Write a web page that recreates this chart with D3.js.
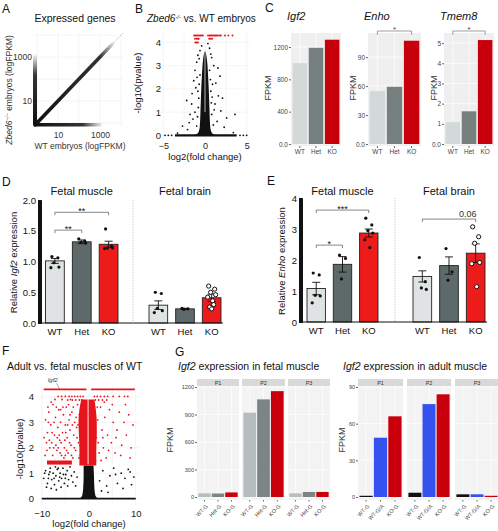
<!DOCTYPE html>
<html><head><meta charset="utf-8">
<script src="https://cdn.jsdelivr.net/npm/d3@7"></script>
<style>body{margin:0;background:#fff}svg{display:block;font-family:"Liberation Sans",Arial,sans-serif}</style>
</head><body><svg id="c" width="498" height="531"></svg>
<script>
// ================= DATA =================
const genotypes = ["WT", "Het", "KO"];

// A: expressed genes (log FPKM density)
const aTickValues = [10, 1000];
const aDomain = [0.8, 12600];
const aRidge = [0.8, 1000, 5000];      // diagonal ridge: start, dense end, fade end
const aBand = [0.8, 150, 1400];        // axis-hugging bands: start, dense end, fade end

// B: volcano Zbed6-/- vs WT
const bXTicks = [-5, 0, 5];
const bYTicks = [0, 1, 2, 3, 4];
const bCore = [[0,1.25],[0.12,0.8],[0.4,0.62],[1.0,0.55],[1.5,0.5],[2.0,0.45],[2.5,0.38],[3.0,0.3],[3.3,0.22],[3.6,0.08]];
const bZero = [-3.6, 3.8];
const bZeroSparse = [-4.8, -4.4, -4.0, 4.2, 4.6, 5.0];
const bBlack = [[-2.7,0.4],[-2.1,0.25],[-1.8,0.9],[-1.6,1.35],[-1.55,1.8],[-1.35,2.35],[-1.2,2.8],[-1.0,3.15],[-0.85,3.45],[-0.6,3.65],[0.55,3.75],[0.8,3.35],[1.05,3.0],[1.3,2.25],[1.55,2.9],[1.6,1.7],[1.9,1.05],[1.45,0.6],[2.3,0.35],[2.6,0.75],[-2.2,1.5],[-1.1,2.05],[1.2,1.35],[-1.45,0.7],[3.4,0.12],[-3.3,0.1],[0.35,3.95],[-0.4,3.85],[1.8,2.55],[-1.9,0.55],[2.1,1.6],[-0.7,3.3],[0.7,3.5],[3.6,0.9],
  [-0.9,0.8],[-0.8,1.2],[-0.75,1.6],[-0.7,2.2],[-0.6,2.6],[0.8,0.9],[0.75,1.4],[0.7,1.9],[0.65,2.4],[0.55,2.8],[-1.0,0.4],[1.0,0.45],[-0.85,1.9],[0.85,1.65],[-1.2,1.0],[1.1,1.1],[-0.95,2.5],[0.9,2.2]];
const bRed = [[-1.3,4.3],[-1.15,4.3],[-1.0,4.3],[-0.85,4.3],[-0.7,4.3],[-0.55,4.3],[-0.4,4.3],[-0.25,4.3],[0.36,4.3],[0.5,4.3],[0.65,4.3],[0.8,4.3],[0.95,4.3],[1.1,4.3],[1.25,4.3],[1.4,4.3],[1.55,4.3],[1.75,4.3],[1.9,4.3],[2.4,4.3],[2.8,4.3],[3.3,4.3],
  [-1.2,4.16],[-1.0,4.16],[-0.85,4.16],[-0.75,4.16],[0.5,4.16],[0.7,4.16],[0.85,4.16],[-1.15,4.0],[-1.0,4.0],[-0.85,4.0]];

// C: FPKM per gene
const cGenes = ["Igf2", "Enho", "Tmem8"];
const cIgf2 = [1000, 1190, 1290];
const cEnho = [54.8, 59.3, 107];
const cTmem8 = [1.08, 1.62, 5.15];
const cIgf2Ticks = [0, 400, 800, 1200];
const cEnhoTicks = [0, 30, 60, 90];
const cTmem8Ticks = [0, 1, 2, 3, 4, 5];

// D: relative Igf2 expression
const dTicks = [0, 0.5, 1.0, 1.5, 2.0];
const dMuscleMean = [1.01, 1.32, 1.28];
const dMuscleSem = [0.04, 0.03, 0.05];
const dBrainMean = [0.29, 0.23, 0.41];
const dBrainSem = [0.07, 0.01, 0.06];
const dMusclePts = [[1.08,1.06,0.98,0.91,0.90],[1.37,1.33,1.31,1.30],[1.53,1.25,1.22,1.22,1.21]];
const dBrainPts = [[0.50,0.48,0.24,0.20,0.17],[0.24,0.23,0.22],[0.60,0.55,0.50,0.46,0.42,0.36,0.30,0.26,0.23]];
const dSig = [{a:"WT", b:"KO", y:1.80, label:"**"}, {a:"WT", b:"Het", y:1.51, label:"**"}];

// E: relative Enho expression
const eTicks = [0, 1, 2, 3, 4];
const eMuscleMean = [1.08, 1.86, 2.87];
const eMuscleSem = [0.20, 0.25, 0.13];
const eBrainMean = [1.47, 1.82, 2.22];
const eBrainSem = [0.18, 0.28, 0.30];
const eMusclePts = [[1.58,1.52,0.86,0.84,0.62],[2.16,2.05,1.39],[3.35,3.13,2.95,2.87,2.65,2.40]];
const eBrainPts = [[2.08,1.30,1.10,1.05],[2.37,1.62,1.35],[3.07,2.75,2.54,1.92,1.88,1.14]];
const eSig = [{a:"WT", b:"KO", y:3.61, label:"***"}, {a:"WT", b:"Het", y:2.48, label:"*"}];
const eBrainSig = [{a:"WT", b:"KO", y:3.32, label:"0.06"}];

// F: volcano adult vs fetal muscle
const fXTicks = [-10, 0, 10];
const fYTicks = [0, 1, 2, 3, 4];
const fZero = [-10, 10];
const fBlackCore = [[0,-1.9,1.9],[0.12,-1.4,1.4],[0.4,-1.2,1.2],[0.9,-1.1,1.1],[1.3,-1.1,1.0]];
const fRedCore = [[1.3,-2.0,1.6],[2.0,-2.0,1.6],[2.5,-2.1,1.7],[3.0,-2.2,1.7],[3.5,-2.0,1.5],[3.9,-1.6,1.2]];
const fRedTop = [[-9.6,-0.5],[0.5,9.8]];
const fRedBand = [-8.9, -3.6, 1.34, 1.5];
const fRedRows = [[-6.5,4.02],[-5.8,4.02],[-5.0,4.02],[-4.2,4.02],[-3.6,4.02],[-3.0,4.02],[-2.4,4.02],[-1.8,4.02],[-1.2,4.02],[1.2,4.02],[1.8,4.02],[2.5,4.02],[3.3,4.02],[4.0,4.02],[5.2,4.02],[6.5,4.02],[7.6,4.02],[8.3,4.02],
  [-4.5,3.88],[-3.5,3.88],[-2.8,3.88],[-2.0,3.88],[-1.5,3.88],[1.4,3.88],[2.1,3.88],[2.9,3.88],[3.8,3.88]];
const fRed = [[-9.2,3.1],[-8.8,2.6],[-8.5,3.4],[-8.1,2.9],[-7.9,2.2],[-7.6,3.7],[-7.3,2.5],[-7.1,3.2],[-6.8,1.9],[-6.6,2.8],[-6.4,3.5],[-6.2,2.3],[-6.0,3.0],[-5.8,1.7],[-5.6,2.6],[-5.4,3.3],[-5.2,2.0],[-5.0,2.9],[-4.8,3.6],[-4.6,2.4],[-4.4,1.8],[-4.2,3.1],[-4.0,2.7],[-3.8,2.1],[-3.6,3.4],[-3.4,1.6],[-3.2,2.5],[-3.0,3.0],[-2.8,1.9],[-2.6,2.8],[-2.4,3.7],[-2.2,2.2],[-2.0,3.3],[-1.8,1.7],[-1.6,2.6],[-1.4,3.0],[-8.9,1.9],[-8.3,2.0],[-7.7,1.7],[-7.0,2.1],[-6.5,2.0],[-5.9,2.2],[-5.3,1.6],[-4.7,1.9],[-4.1,2.2],[-3.7,1.7],[-9.5,2.4],[-8.6,3.0],[-7.4,3.0],[-6.9,3.6],[-6.3,2.5],[-5.5,3.6],[-4.9,2.6],[-4.3,3.7],[-3.3,3.6],[-2.5,2.4],[-2.1,1.6],[-1.7,3.5],[-3.9,3.9],[-5.7,3.9],[-7.2,3.9],[-8.0,3.8],[-1.9,2.1],[-2.7,3.2],[-3.5,2.9],[-6.7,2.4],[-7.8,2.6],[-9.0,2.2],[-5.1,2.3],[-4.5,2.9],[-8.4,2.3],[-7.5,2.0],[-6.1,1.8],[-5.0,1.7],[-3.1,2.0],[-2.3,2.9],[-9.3,1.7],[-6.0,3.5],[-4.0,3.3],[-8.7,3.6],
  [1.6,2.4],[1.9,3.1],[2.2,1.8],[2.5,3.6],[2.8,2.7],[3.1,2.0],[3.4,3.2],[3.7,1.6],[4.0,2.5],[4.4,3.5],[4.8,2.2],[5.2,3.0],[5.6,1.8],[6.0,2.7],[6.5,3.4],[7.0,2.1],[7.5,3.0],[8.0,2.5],[8.5,3.3],[9.0,2.0],[9.4,2.9],[2.0,2.2],[2.6,1.5],[3.3,3.8],[4.2,1.9],[5.0,3.7],[5.8,2.4],[6.8,1.7],[7.8,3.7],[8.8,1.6],[1.8,3.6],[3.0,2.4]];
const fBlack = [[-9.6,0.8],[-9.2,1.1],[-8.8,0.6],[-8.5,0.95],[-8.2,1.2],[-7.9,0.75],[-7.6,1.0],[-7.3,0.55],[-7.0,0.9],[-6.7,1.15],[-6.4,0.7],[-6.1,1.0],[-5.8,0.8],[-5.5,1.2],[-5.2,0.6],[-4.9,0.95],[-4.6,1.1],[-4.3,0.75],[-4.0,1.25],[-3.7,0.9],[-3.4,0.65],[-3.1,1.05],[-2.8,0.5],[-2.5,0.85],[-9.0,0.45],[-8.0,0.4],[-6.9,0.35],[-5.9,0.45],[-8.6,0.8],[-7.4,0.8],[-6.2,0.85],[-5.0,0.8],[-9.4,1.0],[-7.1,1.25],[-4.5,0.5],[-8.3,1.05],[-6.5,1.2],[-5.4,0.95],
  [2.3,0.7],[3.0,1.1],[3.8,0.5],[4.5,0.9],[5.3,1.2],[6.1,0.6],[6.9,1.0],[7.7,0.8],[8.4,1.15],[9.1,0.55],[2.7,0.3],[4.1,0.25],[5.7,0.95],[7.3,0.4],[8.8,1.05],[9.6,0.85]];
const fIgf2 = [-6.2, 4.3];

// G: Igf2 FPKM by pig
const pigs = ["P1", "P2", "P3"];
const gFetalGroups = ["WT-G", "Het-G", "KO-G"];
const gAdultGroups = ["WT-G", "WT-G/A", "KO-G"];
const gFetal = [[40, 38, 50], [920, 1065, 1155], [40, 55, 55]];
const gAdult = [[1, 48.5, 66], [3.5, 76, 84], [2.2, 2.2, 1]];
const gFetalTicks = [0, 300, 600, 900, 1200];
const gAdultTicks = [0, 30, 60, 90];

// ================= DRAWING =================
const FONT = '"Liberation Sans", Arial, sans-serif';
const svg = d3.select("#c");
const defs = svg.append("defs");
const RED = "#e8141c", BLK = "#111";

function text(g, x, y, s, o = {}) {
  const t = g.append("text").attr("x", x).attr("y", y).text(s)
    .attr("font-size", o.size || 10).attr("fill", o.fill || "#111")
    .attr("text-anchor", o.anchor || "start");
  if (o.italic) t.attr("font-style", "italic");
  if (o.rotate) t.attr("transform", `rotate(${o.rotate},${x},${y})`);
  return t;
}
function rich(g, x, y, parts, o = {}) {
  const t = g.append("text").attr("x", x).attr("y", y)
    .attr("font-size", o.size || 10).attr("fill", o.fill || "#111")
    .attr("text-anchor", o.anchor || "start");
  if (o.rotate) t.attr("transform", `rotate(${o.rotate},${x},${y})`);
  parts.forEach(p => {
    const s = t.append("tspan").text(p.t);
    if (p.i) s.attr("font-style", "italic");
    if (p.sup) s.attr("baseline-shift", "super").attr("font-size", (o.size || 10) * 0.6);
  });
  return t;
}
function styleAxis(a, size, color, keepDomain, stroke) {
  a.attr("font-size", size).attr("font-family", FONT).attr("fill", color);
  a.selectAll("text").attr("fill", color);
  a.selectAll("line").attr("stroke", stroke || color);
  if (!keepDomain) a.select(".domain").remove();
  else a.select(".domain").attr("stroke", stroke || color);
  return a;
}

// ---------- Panel letters ----------
[["A",2,13],["B",135,13],["C",265,12],["D",2,186],["E",267,185],["F",2,355],["G",175,356]]
  .forEach(([l,x,y]) => text(svg, x, y, l, {size: 12}));

// ---------- A ----------
(function () {
  const g = svg.append("g");
  const x = d3.scaleLog().domain(aDomain).range([35, 123]);
  const y = d3.scaleLog().domain(aDomain).range([125, 33]);
  const gv = [1, 10, 100, 1000, 10000];
  g.selectAll("line.gx").data(gv).join("line").attr("class","gx")
    .attr("x1", d => x(d)).attr("x2", d => x(d)).attr("y1", 33).attr("y2", 127)
    .attr("stroke", "#eeeeee").attr("stroke-width", 0.6);
  g.selectAll("line.gy").data(gv).join("line").attr("class","gy")
    .attr("y1", d => y(d)).attr("y2", d => y(d)).attr("x1", 33).attr("x2", 123)
    .attr("stroke", "#eeeeee").attr("stroke-width", 0.6);
  g.append("line").attr("x1", x(aDomain[0])).attr("y1", y(aDomain[0]))
    .attr("x2", x(aDomain[1])).attr("y2", y(aDomain[1]))
    .attr("stroke", "#888").attr("stroke-width", 0.6).attr("stroke-dasharray", "1.5,1.5");
  function grad(id, x1, y1, x2, y2, frac) {
    const lg = defs.append("linearGradient").attr("id", id).attr("gradientUnits", "userSpaceOnUse")
      .attr("x1", x1).attr("y1", y1).attr("x2", x2).attr("y2", y2);
    lg.append("stop").attr("offset", 0).attr("stop-color", BLK).attr("stop-opacity", 1);
    lg.append("stop").attr("offset", frac).attr("stop-color", BLK).attr("stop-opacity", 0.85);
    lg.append("stop").attr("offset", 1).attr("stop-color", BLK).attr("stop-opacity", 0);
  }
  const bandFrac = (Math.log(aBand[1]) - Math.log(aBand[0])) / (Math.log(aBand[2]) - Math.log(aBand[0]));
  grad("gv", 0, y(aBand[0]), 0, y(aBand[2]), bandFrac);
  grad("gh", x(aBand[0]), 0, x(aBand[2]), 0, bandFrac);
  g.append("rect").attr("x", x(aBand[0]) - 2).attr("width", 4)
    .attr("y", y(aBand[2])).attr("height", y(aBand[0]) - y(aBand[2])).attr("fill", "url(#gv)");
  g.append("rect").attr("y", y(aBand[0]) - 2).attr("height", 3.5)
    .attr("x", x(aBand[0])).attr("width", x(aBand[2]) - x(aBand[0])).attr("fill", "url(#gh)");
  const rFrac = (Math.log(aRidge[1]) - Math.log(aRidge[0])) / (Math.log(aRidge[2]) - Math.log(aRidge[0]));
  grad("gr", x(aRidge[0]), y(aRidge[0]), x(aRidge[2]), y(aRidge[2]), rFrac);
  g.append("line").attr("x1", x(aRidge[0])).attr("y1", y(aRidge[0]))
    .attr("x2", x(aRidge[2])).attr("y2", y(aRidge[2]))
    .attr("stroke", "url(#gr)").attr("stroke-width", 3.6).attr("stroke-linecap", "round");
  const ax = g.append("g").attr("transform", "translate(0,132)")
    .call(d3.axisBottom(x).tickValues(aTickValues).tickFormat(d3.format("d")).tickSize(0).tickPadding(0));
  styleAxis(ax, 8.5, "#333", false);
  const ay = g.append("g").attr("transform", "translate(34,0)")
    .call(d3.axisLeft(y).tickValues(aTickValues).tickFormat(d3.format("d")).tickSize(0).tickPadding(2));
  styleAxis(ay, 8.5, "#333", false);
  text(g, 75, 22, "Expressed genes", {size: 10.5, anchor: "middle"});
  text(g, 80, 149, "WT embryos (logFPKM)", {size: 8.5, anchor: "middle", fill: "#333"});
  rich(g, 12, 90, [{t:"Zbed6", i:true}, {t:"−/−", i:true, sup:true}, {t:" embryos (logFPKM)"}],
    {size: 8.5, anchor: "middle", rotate: -90, fill: "#333"});
})();

// ---------- B ----------
(function () {
  const g = svg.append("g");
  const x = d3.scaleLinear().domain([-5.4, 5.4]).range([160, 250]);
  const y = d3.scaleLinear().domain([-0.2, 4.45]).range([140, 32]);
  g.selectAll("line.gx").data([-5, -2.5, 0, 2.5, 5]).join("line").attr("class","gx")
    .attr("x1", d => x(d)).attr("x2", d => x(d)).attr("y1", 32).attr("y2", 140)
    .attr("stroke", "#eeeeee").attr("stroke-width", 0.6);
  g.selectAll("line.gy").data(bYTicks).join("line").attr("class","gy")
    .attr("y1", d => y(d)).attr("y2", d => y(d)).attr("x1", 160).attr("x2", 250)
    .attr("stroke", "#eeeeee").attr("stroke-width", 0.6);
  g.append("line").attr("x1", x(bZero[0])).attr("x2", x(bZero[1])).attr("y1", y(0)).attr("y2", y(0))
    .attr("stroke", BLK).attr("stroke-width", 2.2);
  g.selectAll("circle.zs").data(bZeroSparse).join("circle").attr("class","zs")
    .attr("cx", d => x(d)).attr("cy", y(0)).attr("r", 0.9).attr("fill", BLK);
  const area = d3.area().curve(d3.curveMonotoneY).y(d => y(d[0])).x0(d => x(-d[1])).x1(d => x(d[1]));
  g.append("path").attr("d", area(bCore)).attr("fill", BLK);
  g.append("line").attr("x1", x(0)).attr("x2", x(0)).attr("y1", y(1.0)).attr("y2", y(3.6))
    .attr("stroke", "#fff").attr("stroke-width", 0.7);
  g.selectAll("circle.bk").data(bBlack).join("circle").attr("class","bk")
    .attr("cx", d => x(d[0])).attr("cy", d => y(d[1])).attr("r", 0.9).attr("fill", BLK);
  g.selectAll("circle.rd").data(bRed).join("circle").attr("class","rd")
    .attr("cx", d => x(d[0])).attr("cy", d => y(d[1])).attr("r", 0.95).attr("fill", RED);
  const ax = g.append("g").attr("transform", "translate(0,143)")
    .call(d3.axisBottom(x).tickValues(bXTicks).tickFormat(d3.format("d")).tickSize(0).tickPadding(0));
  styleAxis(ax, 9, "#222", false);
  const ay = g.append("g").attr("transform", "translate(163,0)")
    .call(d3.axisLeft(y).tickValues(bYTicks).tickFormat(d3.format("d")).tickSize(0).tickPadding(2));
  styleAxis(ay, 9.5, "#222", false);
  rich(g, 147, 22, [{t:"Zbed6", i:true}, {t:"-/-", i:true, sup:true}, {t:" vs. WT embryos"}], {size: 10});
  text(g, 205, 160, "log2(fold change)", {size: 9.5, anchor: "middle"});
  text(g, 141, 83, "-log10(pvalue)", {size: 9.5, anchor: "middle", rotate: -90});
})();

// ---------- C ----------
(function () {
  const colors = ["#d3d9d9", "#76807f", "#c8000b"];
  const panels = [
    {gene: cGenes[0], vals: cIgf2, ticks: cIgf2Ticks, x0: 291, x1: 341, max: 1373, ylab: 271, sig: false},
    {gene: cGenes[1], vals: cEnho, ticks: cEnhoTicks, x0: 368, x1: 421, max: 115, ylab: 356, sig: true},
    {gene: cGenes[2], vals: cTmem8, ticks: cTmem8Ticks, x0: 444, x1: 494, max: 5.5, ylab: 437, sig: true}
  ];
  panels.forEach(p => {
    const g = svg.append("g");
    const y = d3.scaleLinear().domain([0, p.max]).range([144, 33]);
    const x = d3.scaleBand().domain(genotypes).range([p.x0, p.x1]).paddingInner(0.1).paddingOuter(0.1);
    g.append("rect").attr("x", p.x0).attr("y", 33).attr("width", p.x1 - p.x0).attr("height", 113).attr("fill", "#efefef");
    g.selectAll("line.gy").data(p.ticks).join("line").attr("class","gy")
      .attr("x1", p.x0).attr("x2", p.x1).attr("y1", d => y(d)).attr("y2", d => y(d))
      .attr("stroke", "#fff").attr("stroke-width", 0.7);
    g.selectAll("line.gx").data(genotypes).join("line").attr("class","gx")
      .attr("x1", d => x(d) + x.bandwidth() / 2).attr("x2", d => x(d) + x.bandwidth() / 2)
      .attr("y1", 33).attr("y2", 146).attr("stroke", "#fff").attr("stroke-width", 0.7);
    g.selectAll("rect.bar").data(p.vals).join("rect").attr("class","bar")
      .attr("x", (d, i) => x(genotypes[i])).attr("width", x.bandwidth())
      .attr("y", d => y(d)).attr("height", d => y(0) - y(d)).attr("fill", (d, i) => colors[i]);
    const ay = g.append("g").attr("transform", `translate(${p.x0},0)`)
      .call(d3.axisLeft(y).tickValues(p.ticks).tickFormat(d => d === 0 ? "0.0" : String(d)).tickSize(2).tickPadding(1));
    styleAxis(ay, 6.5, "#444", false, "#666");
    const ax = g.append("g").attr("transform", "translate(0,146)")
      .call(d3.axisBottom(x).tickSize(2).tickPadding(1));
    styleAxis(ax, 6.5, "#444", false, "#666");
    text(g, p.x0 - 4, 20, p.gene, {size: 11, italic: true});
    text(g, p.ylab, 88, "FPKM", {size: 9, anchor: "middle", rotate: -90, fill: "#333"});
    if (p.sig) {
      const xa = x("WT") + x.bandwidth() / 2, xb = x("KO") + x.bandwidth() / 2;
      g.append("path").attr("d", `M${xa},35V31H${xb}V35`).attr("fill", "none").attr("stroke", "#777").attr("stroke-width", 0.7);
      text(g, (xa + xb) / 2, 32, "*", {size: 8, anchor: "middle", fill: "#444"});
    }
  });
})();

// ---------- D & E (bar + dots) ----------
function prism(cfg) {
  const g = svg.append("g");
  const y = d3.scaleLinear().domain([0, cfg.ticks[cfg.ticks.length - 1]]).range([cfg.y0, cfg.y1]);
  const colors = ["#dfe3e3", "#5e6969", "#ee1b1b"];
  const jit = [-3, 3, -1, 4, -4, 1, 2, -2, 0];
  cfg.groups.forEach(grp => {
    const x = d3.scaleBand().domain(genotypes).range(grp.range).paddingInner(0.3).paddingOuter(0);
    const cx = k => x(k) + x.bandwidth() / 2;
    g.selectAll(null).data(grp.mean).join("rect")
      .attr("x", (d, i) => x(genotypes[i])).attr("width", x.bandwidth())
      .attr("y", d => y(d)).attr("height", d => y(0) - y(d))
      .attr("fill", (d, i) => colors[i]).attr("stroke", "#222").attr("stroke-width", 0.9);
    grp.mean.forEach((m, i) => {
      const c = cx(genotypes[i]), s = grp.sem[i];
      g.append("path").attr("d", `M${c},${y(m - s)}V${y(m + s)}M${c - 4},${y(m + s)}H${c + 4}M${c - 4},${y(m - s)}H${c + 4}`)
        .attr("stroke", "#111").attr("stroke-width", 0.9).attr("fill", "none");
      grp.pts[i].forEach((v, j) => {
        const open = grp.open && i === 2;
        g.append("circle").attr("cx", c + jit[j % jit.length]).attr("cy", y(v))
          .attr("r", open ? 2.1 : 1.6)
          .attr("fill", open ? "#fff" : "#111").attr("stroke", "#111").attr("stroke-width", open ? 1 : 0);
      });
    });
    (grp.sig || []).forEach(s => {
      const xa = cx(s.a), xb = cx(s.b), yy = y(s.y);
      g.append("path").attr("d", `M${xa},${yy + 3}V${yy}H${xb}V${yy + 3}`)
        .attr("fill", "none").attr("stroke", "#555").attr("stroke-width", 0.7);
      if (s.label.startsWith("*")) text(g, (xa + xb) / 2, yy + 1.5, s.label, {size: 9, anchor: "middle"});
      else text(g, xb - 8, yy - 2.5, s.label, {size: 9, anchor: "middle", fill: "#333"});
    });
    const ax = g.append("g").attr("transform", `translate(0,${cfg.y0})`)
      .call(d3.axisBottom(x).tickSize(0).tickPadding(5));
    styleAxis(ax, 9.5, "#111", false);
    text(g, (grp.range[0] + grp.range[1]) / 2, 195, grp.title, {size: 11, anchor: "middle"});
  });
  const ay = g.append("g").attr("transform", `translate(${cfg.axisX},0)`)
    .call(d3.axisLeft(y).tickValues(cfg.ticks).tickFormat(cfg.fmt).tickSize(3).tickPadding(2));
  styleAxis(ay, 9.5, "#111", true, "#111");
  g.append("line").attr("x1", cfg.axisX).attr("x2", cfg.groups[1].range[1] + 2)
    .attr("y1", cfg.y0).attr("y2", cfg.y0).attr("stroke", "#111").attr("stroke-width", 1);
  g.append("line").attr("x1", cfg.sepX).attr("x2", cfg.sepX).attr("y1", cfg.y1).attr("y2", cfg.y0)
    .attr("stroke", "#aaa").attr("stroke-width", 0.6).attr("stroke-dasharray", "1,1");
  rich(g, cfg.ylabX, (cfg.y0 + cfg.y1) / 2 + 1, [{t:"Relative "}, {t:cfg.gene, i:true}, {t:" expression"}],
    {size: 9.5, anchor: "middle", rotate: -90});
}
prism({gene: "Igf2", ticks: dTicks, fmt: d3.format(".1f"), y0: 323, y1: 200, axisX: 41, sepX: 133, ylabX: 17,
  groups: [
    {title: "Fetal muscle", range: [45.5, 118], mean: dMuscleMean, sem: dMuscleSem, pts: dMusclePts, sig: dSig},
    {title: "Fetal brain", range: [149, 221], mean: dBrainMean, sem: dBrainSem, pts: dBrainPts, open: true}
  ]});
prism({gene: "Enho", ticks: eTicks, fmt: d3.format("d"), y0: 322, y1: 198, axisX: 302, sepX: 395, ylabX: 285,
  groups: [
    {title: "Fetal  muscle", range: [307, 378], mean: eMuscleMean, sem: eMuscleSem, pts: eMusclePts, sig: eSig},
    {title: "Fetal brain", range: [413, 485], mean: eBrainMean, sem: eBrainSem, pts: eBrainPts, open: true, sig: eBrainSig}
  ]});

// ---------- F ----------
(function () {
  const g = svg.append("g");
  const x = d3.scaleLinear().domain([-10.6, 10.9]).range([39, 140]);
  const y = d3.scaleLinear().domain([-0.25, 4.47]).range([505, 385]);
  g.selectAll("line.gx").data([-10, -5, 0, 5, 10]).join("line").attr("class","gx")
    .attr("x1", d => x(d)).attr("x2", d => x(d)).attr("y1", 385).attr("y2", 505)
    .attr("stroke", "#ececec").attr("stroke-width", 0.6);
  g.selectAll("line.gy").data(fYTicks).join("line").attr("class","gy")
    .attr("y1", d => y(d)).attr("y2", d => y(d)).attr("x1", 39).attr("x2", 140)
    .attr("stroke", "#ececec").attr("stroke-width", 0.6);
  g.append("line").attr("x1", x(fZero[0])).attr("x2", x(fZero[1])).attr("y1", y(0)).attr("y2", y(0))
    .attr("stroke", BLK).attr("stroke-width", 1.8);
  const area = d3.area().curve(d3.curveMonotoneY).y(d => y(d[0])).x0(d => x(d[1])).x1(d => x(d[2]));
  g.append("path").attr("d", area(fBlackCore)).attr("fill", BLK);
  g.selectAll("circle.bk").data(fBlack).join("circle").attr("class","bk")
    .attr("cx", d => x(d[0])).attr("cy", d => y(d[1])).attr("r", 0.9).attr("fill", BLK);
  g.append("path").attr("d", area(fRedCore)).attr("fill", RED);
  g.append("line").attr("x1", x(-0.15)).attr("x2", x(-0.15)).attr("y1", y(1.35)).attr("y2", y(3.95))
    .attr("stroke", "#fff").attr("stroke-width", 0.9);
  g.append("rect").attr("x", x(fRedBand[0])).attr("width", x(fRedBand[1]) - x(fRedBand[0]))
    .attr("y", y(fRedBand[3])).attr("height", y(fRedBand[2]) - y(fRedBand[3])).attr("fill", RED);
  g.selectAll("circle.rd").data(fRed.concat(fRedRows)).join("circle").attr("class","rd")
    .attr("cx", d => x(d[0])).attr("cy", d => y(d[1])).attr("r", 0.9).attr("fill", RED);
  g.selectAll("line.top").data(fRedTop).join("line").attr("class","top")
    .attr("x1", d => x(d[0])).attr("x2", d => x(d[1])).attr("y1", y(4.3)).attr("y2", y(4.3))
    .attr("stroke", RED).attr("stroke-width", 1.8);
  g.append("line").attr("x1", x(fIgf2[0]) - 3).attr("y1", y(fIgf2[1]) - 6).attr("x2", x(fIgf2[0])).attr("y2", y(fIgf2[1]))
    .attr("stroke", "#5a6a8a").attr("stroke-width", 0.6);
  text(g, x(fIgf2[0]) - 12, y(fIgf2[1]) - 7, "Igf2", {size: 6, italic: true, fill: "#333"});
  const ax = g.append("g").attr("transform", "translate(0,507)")
    .call(d3.axisBottom(x).tickValues(fXTicks).tickFormat(d3.format("d")).tickSize(0).tickPadding(3));
  styleAxis(ax, 9.5, "#222", false);
  const ay = g.append("g").attr("transform", "translate(36,0)")
    .call(d3.axisLeft(y).tickValues(fYTicks).tickFormat(d3.format("d")).tickSize(0).tickPadding(2));
  styleAxis(ay, 9.5, "#222", false);
  text(g, 7, 370, "Adult vs. fetal muscles of WT", {size: 10.5});
  text(g, 89, 527, "log2(fold change)", {size: 9.5, anchor: "middle"});
  text(g, 23, 449, "-log10(pvalue)", {size: 9.5, anchor: "middle", rotate: -90});
})();

// ---------- G ----------
function facet(cfg) {
  const g = svg.append("g");
  const y = d3.scaleLinear().domain([0, cfg.max]).range([497, 386]);
  cfg.panels.forEach((pr, k) => {
    const x = d3.scaleBand().domain(cfg.groups).range(pr).paddingInner(0.08).paddingOuter(0.1);
    g.append("rect").attr("x", pr[0]).attr("y", 386).attr("width", pr[1] - pr[0]).attr("height", 114).attr("fill", "#f3f3f3");
    g.selectAll(null).data(cfg.ticks).join("line")
      .attr("x1", pr[0]).attr("x2", pr[1]).attr("y1", d => y(d)).attr("y2", d => y(d))
      .attr("stroke", "#fff").attr("stroke-width", 0.7);
    g.selectAll(null).data(cfg.groups).join("line")
      .attr("x1", d => x(d) + x.bandwidth() / 2).attr("x2", d => x(d) + x.bandwidth() / 2)
      .attr("y1", 386).attr("y2", 500).attr("stroke", "#fff").attr("stroke-width", 0.7);
    g.append("rect").attr("x", pr[0]).attr("y", 379).attr("width", pr[1] - pr[0]).attr("height", 7).attr("fill", "#d9d9d9");
    text(g, (pr[0] + pr[1]) / 2, 384.5, pigs[k], {size: 5.5, anchor: "middle", fill: "#333"});
    g.selectAll(null).data(cfg.vals[k]).join("rect")
      .attr("x", (d, i) => x(cfg.groups[i])).attr("width", x.bandwidth())
      .attr("y", d => y(d)).attr("height", d => y(0) - y(d))
      .attr("fill", (d, i) => cfg.colors[i]);
    const ax = g.append("g").attr("transform", "translate(0,500)")
      .call(d3.axisBottom(x).tickSize(1.5).tickPadding(1));
    styleAxis(ax, 5.5, "#444", false, "#666");
    ax.selectAll("text").attr("text-anchor", "end").attr("dy", 0)
      .attr("transform", "translate(2,5) rotate(-45)");
  });
  const ay = g.append("g").attr("transform", `translate(${cfg.panels[0][0]},0)`)
    .call(d3.axisLeft(y).tickValues(cfg.ticks).tickFormat(d3.format("d")).tickSize(2).tickPadding(1));
  styleAxis(ay, 5.5, "#444", false, "#666");
  text(g, cfg.ylabX, 440, "FPKM", {size: 9, anchor: "middle", rotate: -90, fill: "#333"});
  rich(g, cfg.titleX, 370, [{t:"Igf2", i:true}, {t:cfg.title}], {size: 10.5});
}
facet({panels: [[197, 239], [242, 285], [288, 330]], max: 1211, ticks: gFetalTicks, groups: gFetalGroups,
  vals: gFetal, colors: ["#b5bdbd", "#7b8585", "#c9000c"], ylabX: 173, titleX: 178, title: " expression in fetal muscle"});
facet({panels: [[358, 403], [407, 451], [455, 499]], max: 90.8, ticks: gAdultTicks, groups: gAdultGroups,
  vals: gAdult, colors: ["#111111", "#3552ee", "#c9000c"], ylabX: 345, titleX: 343, title: " expression in adult muscle"});
</script></body></html>
